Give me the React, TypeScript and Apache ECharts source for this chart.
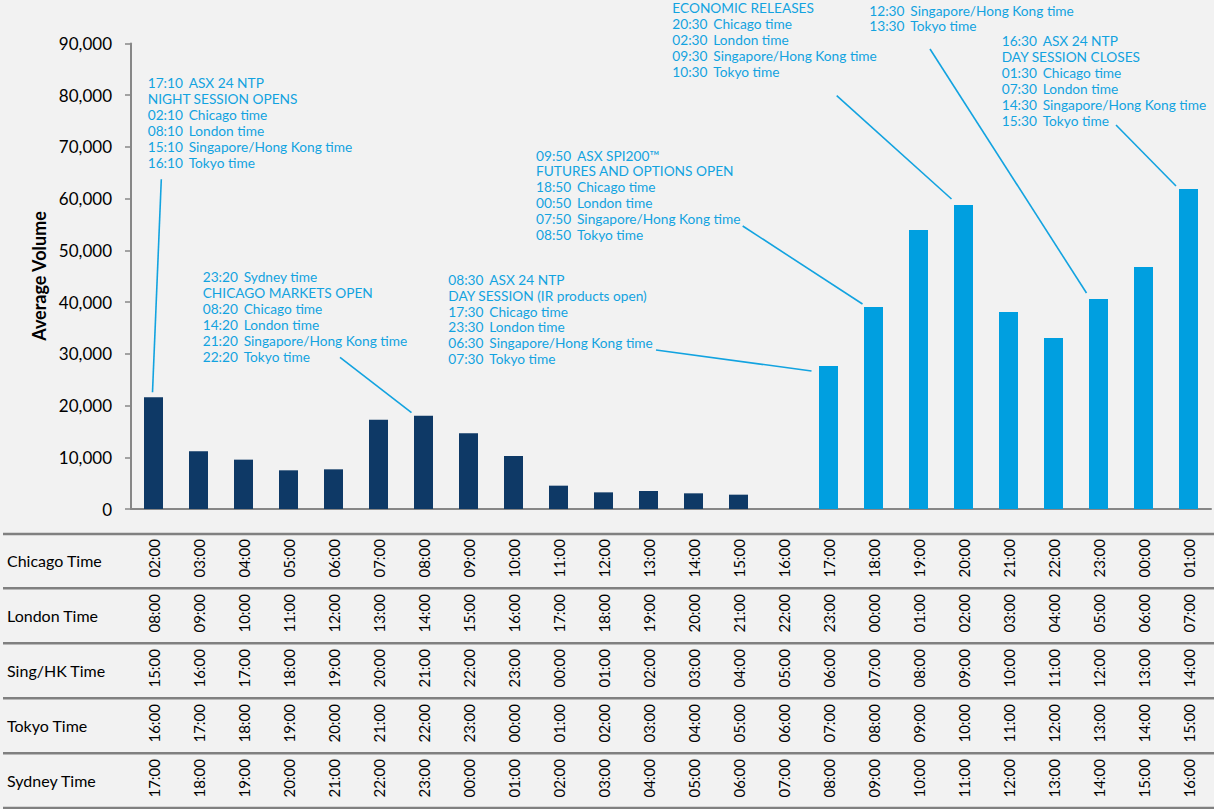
import React, { useEffect, useRef } from "react";
import * as echarts from "echarts";

// ---------- data ----------
const chicagoTimes = ["02:00","03:00","04:00","05:00","06:00","07:00","08:00","09:00","10:00","11:00","12:00","13:00","14:00","15:00","16:00","17:00","18:00","19:00","20:00","21:00","22:00","23:00","00:00","01:00"];
const londonTimes = ["08:00","09:00","10:00","11:00","12:00","13:00","14:00","15:00","16:00","17:00","18:00","19:00","20:00","21:00","22:00","23:00","00:00","01:00","02:00","03:00","04:00","05:00","06:00","07:00"];
const singHkTimes = ["15:00","16:00","17:00","18:00","19:00","20:00","21:00","22:00","23:00","00:00","01:00","02:00","03:00","04:00","05:00","06:00","07:00","08:00","09:00","10:00","11:00","12:00","13:00","14:00"];
const tokyoTimes = ["16:00","17:00","18:00","19:00","20:00","21:00","22:00","23:00","00:00","01:00","02:00","03:00","04:00","05:00","06:00","07:00","08:00","09:00","10:00","11:00","12:00","13:00","14:00","15:00"];
const sydneyTimes = ["17:00","18:00","19:00","20:00","21:00","22:00","23:00","00:00","01:00","02:00","03:00","04:00","05:00","06:00","07:00","08:00","09:00","10:00","11:00","12:00","13:00","14:00","15:00","16:00"];
const rowLabels = ["Chicago Time", "London Time", "Sing/HK Time", "Tokyo Time", "Sydney Time"];
const tableRows = [chicagoTimes, londonTimes, singHkTimes, tokyoTimes, sydneyTimes];

const averageVolume: (number | null)[] = [21600, 11150, 9540, 7480, 7670, 17270, 18040, 14630, 10250, 4510, 3220, 3480, 3030, 2770, null, 27650, 39050, 53940, 58780, 38090, 33060, 40600, 46790, 61870];
const nightSessionBars = 14; // first 14 bars are the night session (dark)

const yMin = 0;
const yMax = 90000;
const yInterval = 10000;
const yAxisTitle = "Average Volume";

// annotation texts: [time, text] ; time null => continuation line
const annNightOpen: [string | null, string][] = [["17:10", "ASX 24 NTP"], [null, "NIGHT SESSION OPENS"], ["02:10", "Chicago time"], ["08:10", "London time"], ["15:10", "Singapore/Hong Kong time"], ["16:10", "Tokyo time"]];
const annChicagoOpen: [string | null, string][] = [["23:20", "Sydney time"], [null, "CHICAGO MARKETS OPEN"], ["08:20", "Chicago time"], ["14:20", "London time"], ["21:20", "Singapore/Hong Kong time"], ["22:20", "Tokyo time"]];
const annDayOpen: [string | null, string][] = [["08:30", "ASX 24 NTP"], [null, "DAY SESSION (IR products open)"], ["17:30", "Chicago time"], ["23:30", "London time"], ["06:30", "Singapore/Hong Kong time"], ["07:30", "Tokyo time"]];
const annSpiOpen: [string | null, string][] = [["09:50", "ASX SPI200™"], [null, "FUTURES AND OPTIONS OPEN"], ["18:50", "Chicago time"], ["00:50", "London time"], ["07:50", "Singapore/Hong Kong time"], ["08:50", "Tokyo time"]];
const annEconomic: [string | null, string][] = [[null, "ECONOMIC RELEASES"], ["20:30", "Chicago time"], ["02:30", "London time"], ["09:30", "Singapore/Hong Kong time"], ["10:30", "Tokyo time"]];
const annMidday: [string | null, string][] = [["12:30", "Singapore/Hong Kong time"], ["13:30", "Tokyo time"]];
const annDayClose: [string | null, string][] = [["16:30", "ASX 24 NTP"], [null, "DAY SESSION CLOSES"], ["01:30", "Chicago time"], ["07:30", "London time"], ["14:30", "Singapore/Hong Kong time"], ["15:30", "Tokyo time"]];

// ---------- styles ----------
const FONT = "Lato, 'Open Sans', sans-serif";
const DARK = "#0e3966";
const LIGHT = "#009fe0";
const ANN = "#12a3e0";
const GRID_GRAY = "#878787";

export default function App() {
  const ref = useRef<HTMLDivElement>(null);

  useEffect(() => {
    if (!ref.current) return;
    const chart = echarts.init(ref.current, null, { renderer: "svg" });

    const tableAxes = tableRows.map((row, k) => ({
      type: "category",
      gridIndex: 0,
      position: "bottom",
      offset: 30 + 55 * k,
      data: row,
      axisLine: { show: false },
      axisTick: { show: false },
      axisLabel: {
        rotate: 90,
        interval: 0,
        margin: 0,
        hideOverlap: false,
        color: "#000",
        fontSize: 15,
        fontFamily: FONT,
      },
    }));

    const option: any = {
      animation: false,
      backgroundColor: "#f2f2f2",
      grid: { left: 131, right: 3, top: 43.5, bottom: 300, containLabel: false },
      xAxis: [
        {
          type: "category",
          data: chicagoTimes,
          axisLine: { show: true, lineStyle: { color: GRID_GRAY, width: 2 } },
          axisTick: { show: false },
          axisLabel: { show: false },
        },
        ...tableAxes,
      ],
      yAxis: {
        type: "value",
        min: yMin,
        max: yMax,
        interval: yInterval,
        axisLine: { show: true, lineStyle: { color: GRID_GRAY, width: 2 } },
        axisTick: { show: true, length: 6, lineStyle: { color: GRID_GRAY, width: 1.5 } },
        splitLine: { show: false },
        axisLabel: {
          margin: 19,
          color: "#000",
          fontSize: 17,
          fontFamily: FONT,
          formatter: (v: number) => v.toLocaleString("en-US"),
        },
      },
      series: [
        {
          type: "bar",
          barWidth: 19,
          data: averageVolume.map((v, i) => ({
            value: v == null ? "-" : v,
            itemStyle: { color: i < nightSessionBars ? DARK : LIGHT },
          })),
        },
      ],
    };
    chart.setOption(option);

    const graphics: any[] = [];
    // y-axis title
    graphics.push({
      type: "text",
      x: 38.5,
      y: 276,
      rotation: Math.PI / 2,
      style: {
        text: yAxisTitle,
        fill: "#000",
        fontSize: 18,
        fontWeight: "bold",
        fontFamily: FONT,
        align: "center",
        verticalAlign: "middle",
      },
    });
    // table lines & row labels
    const lineYs = [534, 588.3, 643.3, 698.3, 753.3, 808];
    lineYs.forEach((y) =>
      graphics.push({
        type: "line",
        shape: { x1: 3, y1: y, x2: 1214, y2: y },
        style: { stroke: "#808080", lineWidth: 2.5 },
      })
    );
    rowLabels.forEach((label, k) =>
      graphics.push({
        type: "text",
        x: 7,
        y: 560 + 55 * k,
        style: { text: label, fill: "#000", fontSize: 16, fontFamily: FONT, verticalAlign: "middle", align: "left" },
      })
    );

    // annotations
    const annLayout = [
      { lines: annNightOpen, bar: 0, tx: 147.7, ty: 82.7, sx: 161.3, sy: 179.3, dx: -1, dy: -5 },
      { lines: annChicagoOpen, bar: 6, tx: 202.7, ty: 276.7, sx: 340, sy: 357.3, dx: -12, dy: -3 },
      { lines: annDayOpen, bar: 15, tx: 448.3, ty: 279.3, sx: 656, sy: 350, dx: -17, dy: 5 },
      { lines: annSpiOpen, bar: 16, tx: 536, ty: 155, sx: 742.7, sy: 226, dx: -11, dy: -3 },
      { lines: annEconomic, bar: 18, tx: 672.3, ty: 7.5, sx: 836.7, sy: 95.7, dx: -12, dy: -6 },
      { lines: annMidday, bar: 21, tx: 869.3, ty: 10, sx: 930, sy: 49, dx: -12, dy: -6 },
      { lines: annDayClose, bar: 23, tx: 1001.7, ty: 40.7, sx: 1116, sy: 125, dx: -12.5, dy: -3 },
    ];
    const LH = 15.9;
    const FS = 13.7;
    const tokenStyle = { fill: ANN, fontSize: FS, fontFamily: FONT, lineHeight: LH };
    annLayout.forEach((a) => {
      const text = a.lines
        .map(([t, s]) => (t ? `{t|${t}}{s|${s}}` : `{s|${s}}`))
        .join("\n");
      graphics.push({
        type: "text",
        x: a.tx,
        y: a.ty - LH / 2,
        style: {
          text,
          fill: ANN,
          fontSize: FS,
          fontFamily: FONT,
          lineHeight: LH,
          align: "left",
          verticalAlign: "top",
          rich: {
            t: { ...tokenStyle, width: 41 },
            s: { ...tokenStyle },
          },
        },
      });
      const v = averageVolume[a.bar] as number;
      const p = chart.convertToPixel({ seriesIndex: 0 }, [a.bar, v]) as number[];
      graphics.push({
        type: "line",
        shape: { x1: a.sx, y1: a.sy, x2: p[0] + a.dx, y2: p[1] + a.dy },
        style: { stroke: ANN, lineWidth: 1.6 },
      });
    });

    chart.setOption({ graphic: graphics });

    return () => chart.dispose();
  }, []);

  return (
    <div
      ref={ref}
      style={{ position: "absolute", left: 0, top: 0, width: 1214, height: 809, background: "#f2f2f2" }}
    />
  );
}
